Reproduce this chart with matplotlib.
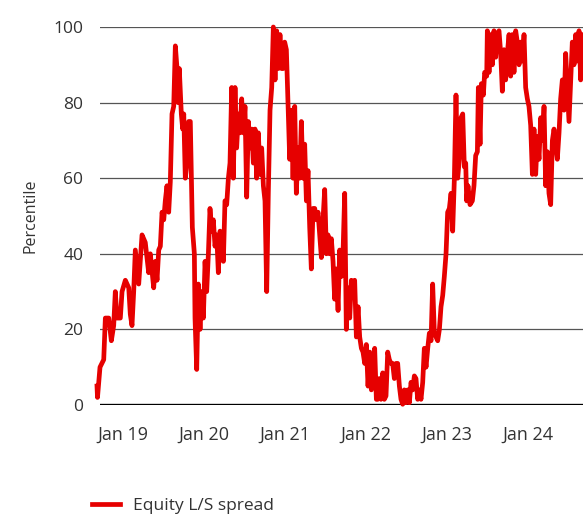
import numpy as np
import pandas as pd
import matplotlib.pyplot as plt
import matplotlib.dates as mdates

plt.rcParams['font.family'] = ['Open Sans', 'DejaVu Sans']

dec_year = [
    2018.685, 2018.691, 2018.722, 2018.768, 2018.788, 2018.830, 2018.862, 2018.891, 2018.911, 2018.932, 2018.973, 2018.994,
    2019.035, 2019.077, 2019.096, 2019.117, 2019.138, 2019.158, 2019.200, 2019.241, 2019.281, 2019.323, 2019.343, 2019.385,
    2019.405, 2019.426, 2019.447, 2019.467, 2019.488, 2019.509, 2019.528, 2019.549, 2019.570, 2019.590, 2019.611, 2019.632,
    2019.652, 2019.673, 2019.685, 2019.701, 2019.726, 2019.743, 2019.756, 2019.775, 2019.796, 2019.817, 2019.837,
    2019.862, 2019.887, 2019.895, 2019.916, 2019.936, 2019.957, 2019.977, 2019.998,
    2020.019, 2020.039, 2020.060, 2020.080, 2020.101, 2020.121, 2020.142, 2020.163, 2020.183, 2020.204,
    2020.224, 2020.245, 2020.265, 2020.286, 2020.307, 2020.327, 2020.348, 2020.368, 2020.389, 2020.409,
    2020.430, 2020.450, 2020.471, 2020.492, 2020.512, 2020.533, 2020.553, 2020.574, 2020.595, 2020.615,
    2020.636, 2020.656, 2020.677, 2020.697, 2020.718, 2020.739, 2020.759, 2020.780, 2020.800, 2020.821,
    2020.842, 2020.862, 2020.883, 2020.903, 2020.924, 2020.944, 2020.965,
    2020.982, 2021.002, 2021.023, 2021.043, 2021.064, 2021.084, 2021.105, 2021.126, 2021.146, 2021.167,
    2021.187, 2021.208, 2021.228, 2021.249, 2021.270, 2021.290, 2021.311, 2021.331, 2021.352, 2021.373,
    2021.393, 2021.414, 2021.434, 2021.455, 2021.475, 2021.496, 2021.517, 2021.537, 2021.558, 2021.578,
    2021.599, 2021.619, 2021.640, 2021.661, 2021.681, 2021.702, 2021.722, 2021.743, 2021.763, 2021.784,
    2021.805, 2021.825, 2021.846, 2021.866, 2021.887, 2021.908, 2021.928, 2021.949, 2021.969, 2021.990,
    2022.010, 2022.031, 2022.052, 2022.072, 2022.093, 2022.113, 2022.134,
    2022.150, 2022.171, 2022.191, 2022.212, 2022.232, 2022.253, 2022.274, 2022.294, 2022.315, 2022.335,
    2022.356, 2022.377, 2022.397, 2022.418, 2022.438, 2022.459, 2022.479, 2022.500, 2022.521, 2022.541,
    2022.562, 2022.582, 2022.603, 2022.623, 2022.644, 2022.665, 2022.685, 2022.706, 2022.726, 2022.747,
    2022.768, 2022.788, 2022.809, 2022.829, 2022.850, 2022.870, 2022.891, 2022.912, 2022.932, 2022.953,
    2022.973, 2022.994, 2023.014, 2023.035, 2023.056, 2023.076, 2023.097, 2023.117, 2023.138, 2023.158,
    2023.179, 2023.200, 2023.220,
    2023.237, 2023.249, 2023.265, 2023.290, 2023.319, 2023.339, 2023.360, 2023.381, 2023.393, 2023.414,
    2023.430, 2023.455, 2023.471, 2023.496, 2023.504,
    2023.525, 2023.545, 2023.566, 2023.586, 2023.607, 2023.627, 2023.648, 2023.669, 2023.689, 2023.710,
    2023.730, 2023.751, 2023.772, 2023.792, 2023.813, 2023.833, 2023.854, 2023.874, 2023.895, 2023.916,
    2023.936, 2023.957, 2023.977, 2023.998, 2024.018, 2024.039, 2024.060, 2024.080, 2024.101, 2024.121,
    2024.142, 2024.163, 2024.183, 2024.204, 2024.224, 2024.245, 2024.265, 2024.286, 2024.307, 2024.327,
    2024.348, 2024.368, 2024.389, 2024.409, 2024.430, 2024.451, 2024.471, 2024.492, 2024.512, 2024.533,
    2024.553, 2024.574, 2024.595, 2024.615, 2024.636, 2024.656, 2024.677, 2024.698, 2024.718,
]

percentile = [
    5, 2, 10, 12, 23, 23, 17, 21, 30, 23, 23, 30,
    33, 31, 24, 21, 30, 41, 32, 45, 43, 35, 40, 31,
    38, 33, 41, 42, 51, 49, 54, 58, 51, 59, 77, 79,
    95, 89, 80, 89, 77, 73, 77, 60, 64, 75, 75,
    47, 40, 23, 9.4, 32, 20, 30, 23,
    38, 30, 40, 52, 46, 49, 42, 45, 35, 46,
    44, 38, 54, 53, 60, 64, 84, 60, 84, 68,
    77, 72, 81, 72, 79, 55, 75, 68, 73, 64,
    73, 60, 72, 61, 68, 58, 54, 30, 56, 78,
    84, 100, 86, 99, 89, 98, 89,
    89, 96, 94, 80, 65, 78, 60, 79, 56, 68,
    60, 75, 60, 69, 54, 62, 47, 36, 52, 52,
    49, 51, 45, 39, 49, 57, 40, 45, 40, 44,
    38, 28, 36, 25, 41, 34, 40, 56, 20, 31,
    23, 33, 29, 33, 18, 26, 18, 15, 14, 11,
    16, 5, 14, 4, 9.4, 15, 1.5,
    1.5, 7, 1.5, 8.5, 1.5, 2.4, 14, 12, 11, 11,
    7, 11, 11, 5, 1.5, 0.2, 4, 0.6, 4, 0.6,
    6, 4, 7.7, 7, 1.5, 4, 1.5, 6, 15, 10,
    15, 19, 17, 32, 19, 18, 17, 20, 26, 29,
    34, 40, 51, 52, 56, 46, 60, 82, 60, 65,
    76, 77, 63,
    64, 54, 58, 53, 54, 58, 66, 67, 84, 69,
    85, 82, 88, 87, 99,
    88, 98, 90, 99, 92, 98, 99, 93, 83, 94,
    86, 93, 98, 87, 98, 88, 99, 96, 90, 96,
    91, 98, 84, 81, 79, 74, 61, 73, 61, 71,
    65, 76, 70, 79, 58, 67, 56, 53, 70, 73,
    69, 65, 72, 81, 86, 78, 93, 84, 75, 86,
    96, 90, 98, 91, 99, 86, 98, 92, 97,
]

tick_years = [2019, 2020, 2021, 2022, 2023, 2024]
series_label = 'Equity L/S spread'


def to_date(y):
    return pd.Timestamp('2019-01-01') + pd.to_timedelta((np.asarray(y) - 2019) * 365.25, unit='D')


dates = to_date(dec_year)

fig = plt.figure(figsize=(5.83, 5.16), dpi=100)
ax = fig.add_axes([100 / 583, 111 / 516, 483 / 583, 378 / 516])

ax.plot(dates, percentile, color='#e60000', lw=3.4, clip_on=False, zorder=3,
        solid_joinstyle='round', label=series_label)

ax.set_ylim(0, 100)
ax.set_xlim(to_date(2018.722), to_date(2024.685))
ax.set_yticks([0, 20, 40, 60, 80, 100])
ax.set_xticks([pd.Timestamp(f'{y}-01-01') for y in tick_years])
ax.xaxis.set_major_formatter(mdates.DateFormatter('%b %y'))

ax.grid(axis='y', color='#555555', lw=0.9)
ax.axhline(0, color='black', lw=2.4, zorder=2)
for s in ax.spines.values():
    s.set_visible(False)

ax.tick_params(axis='x', length=0, pad=15, labelsize=13, labelcolor='#333333')
ax.tick_params(axis='y', length=0, pad=12, labelsize=12.5, labelcolor='#333333')

ax.set_ylabel('Percentile', fontsize=11.5, color='#333333', va='center')
ax.yaxis.set_label_coords(-0.143, 0.5)

fig.legend(loc='center left', bbox_to_anchor=(92 / 583, 10 / 516), frameon=False,
           fontsize=12.5, handlelength=1.6, handletextpad=0.75, borderpad=0,
           borderaxespad=0, labelcolor='#333333')

fig.savefig('out.png', dpi=100)
